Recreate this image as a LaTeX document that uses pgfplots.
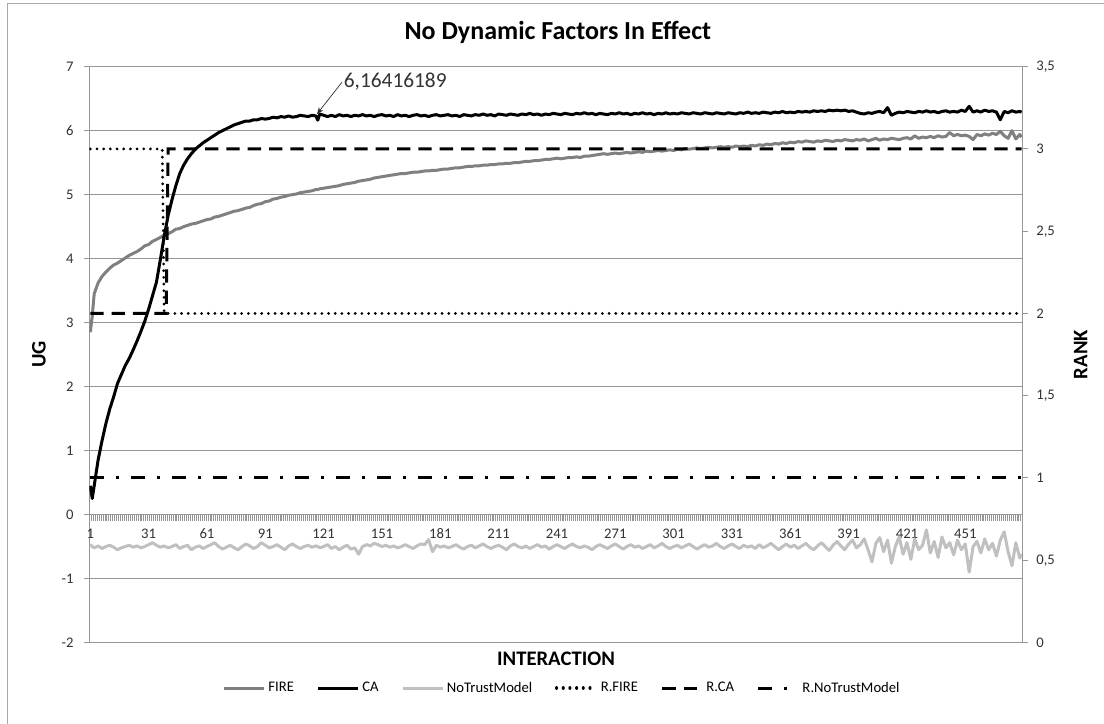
\documentclass[border=0pt]{standalone}
\usepackage{fontspec}
\setmainfont{Carlito}
\usepackage{pgfplots}
\usepackage{pgfplotstable}
\pgfplotsset{compat=1.18}
\usetikzlibrary{arrows.meta}

\definecolor{firec}{RGB}{128,128,128}
\definecolor{ntc}{RGB}{192,192,192}
\definecolor{gridc}{RGB}{150,150,150}
\definecolor{axc}{RGB}{150,150,150}
\definecolor{bordc}{RGB}{170,170,170}
\definecolor{tickc}{RGB}{50,50,50}

\pgfplotstableread{
x fire ca nt
1 2.85 0.45 -0.47
2 3.10 0.25 -0.50
3 3.45 0.45 -0.52
5 3.62 0.85 -0.49
7 3.72 1.15 -0.53
9 3.79 1.42 -0.50
11 3.85 1.65 -0.48
13 3.90 1.84 -0.51
15 3.93 2.05 -0.55
17 3.97 2.19 -0.52
19 4.01 2.33 -0.50
21 4.05 2.44 -0.48
23 4.08 2.57 -0.51
25 4.11 2.71 -0.49
27 4.15 2.86 -0.52
29 4.20 3.02 -0.50
31 4.22 3.21 -0.47
33 4.27 3.42 -0.44
35 4.30 3.63 -0.48
37 4.33 3.98 -0.51
39 4.37 4.35 -0.49
41 4.39 4.67 -0.52
43 4.42 4.92 -0.50
45 4.46 5.14 -0.47
47 4.47 5.33 -0.53
49 4.50 5.46 -0.50
51 4.52 5.56 -0.48
53 4.54 5.64 -0.55
55 4.55 5.71 -0.51
57 4.57 5.76 -0.49
59 4.59 5.81 -0.53
61 4.61 5.85 -0.50
63 4.62 5.89 -0.47
65 4.65 5.93 -0.44
67 4.66 5.97 -0.50
69 4.68 6.00 -0.54
71 4.70 6.03 -0.51
73 4.72 6.06 -0.48
75 4.74 6.09 -0.52
77 4.75 6.11 -0.55
79 4.77 6.13 -0.50
81 4.79 6.15 -0.46
83 4.80 6.15 -0.49
85 4.83 6.17 -0.53
87 4.85 6.17 -0.50
89 4.86 6.19 -0.44
91 4.89 6.18 -0.48
93 4.90 6.19 -0.52
95 4.93 6.21 -0.50
97 4.94 6.20 -0.47
99 4.96 6.22 -0.51
101 4.97 6.21 -0.55
103 4.99 6.23 -0.49
105 5.00 6.21 -0.46
107 5.01 6.22 -0.50
109 5.03 6.24 -0.53
111 5.04 6.23 -0.50
113 5.05 6.22 -0.48
115 5.06 6.24 -0.51
117 5.08 6.23 -0.49
118 5.08 6.164 -0.50
119 5.09 6.26 -0.52
121 5.10 6.24 -0.50
123 5.11 6.22 -0.47
125 5.12 6.24 -0.53
127 5.13 6.22 -0.50
129 5.14 6.25 -0.55
131 5.16 6.23 -0.51
133 5.17 6.24 -0.48
135 5.18 6.22 -0.54
137 5.19 6.24 -0.52
139 5.21 6.23 -0.62
141 5.22 6.25 -0.50
143 5.23 6.23 -0.47
145 5.24 6.24 -0.49
147 5.26 6.22 -0.45
149 5.27 6.24 -0.47
151 5.28 6.25 -0.50
153 5.29 6.23 -0.48
155 5.30 6.24 -0.51
157 5.31 6.22 -0.49
159 5.32 6.25 -0.52
161 5.33 6.23 -0.50
163 5.33 6.24 -0.47
165 5.34 6.22 -0.50
167 5.35 6.24 -0.53
169 5.35 6.25 -0.49
171 5.36 6.23 -0.46
173 5.37 6.24 -0.47
175 5.37 6.22 -0.39
177 5.38 6.24 -0.58
179 5.38 6.25 -0.48
181 5.39 6.23 -0.51
183 5.40 6.24 -0.49
185 5.40 6.25 -0.52
187 5.41 6.23 -0.50
189 5.42 6.24 -0.47
191 5.42 6.22 -0.51
193 5.43 6.25 -0.54
195 5.44 6.24 -0.50
197 5.44 6.23 -0.48
199 5.45 6.25 -0.52
201 5.45 6.24 -0.49
203 5.46 6.26 -0.46
205 5.46 6.24 -0.50
207 5.47 6.25 -0.53
209 5.47 6.23 -0.50
211 5.48 6.26 -0.48
213 5.48 6.25 -0.51
215 5.49 6.24 -0.55
217 5.49 6.26 -0.49
219 5.50 6.25 -0.46
221 5.50 6.24 -0.50
223 5.51 6.26 -0.52
225 5.52 6.25 -0.49
227 5.52 6.27 -0.53
229 5.53 6.25 -0.50
231 5.53 6.26 -0.47
233 5.54 6.24 -0.51
235 5.55 6.26 -0.49
237 5.55 6.25 -0.54
239 5.56 6.27 -0.50
241 5.57 6.26 -0.47
243 5.56 6.25 -0.50
245 5.57 6.27 -0.53
247 5.58 6.26 -0.49
249 5.58 6.25 -0.46
251 5.59 6.27 -0.50
253 5.58 6.26 -0.52
255 5.60 6.28 -0.49
257 5.60 6.26 -0.51
259 5.61 6.27 -0.55
261 5.62 6.25 -0.50
263 5.63 6.27 -0.47
265 5.64 6.26 -0.50
267 5.63 6.25 -0.53
269 5.64 6.27 -0.49
271 5.65 6.26 -0.46
273 5.64 6.28 -0.50
275 5.65 6.26 -0.54
277 5.66 6.27 -0.50
279 5.65 6.25 -0.47
281 5.66 6.27 -0.51
283 5.67 6.26 -0.49
285 5.66 6.28 -0.53
287 5.68 6.26 -0.50
289 5.67 6.27 -0.47
291 5.68 6.25 -0.52
293 5.69 6.27 -0.49
295 5.68 6.26 -0.45
297 5.69 6.28 -0.50
299 5.70 6.26 -0.53
301 5.69 6.27 -0.50
303 5.71 6.26 -0.48
305 5.70 6.28 -0.52
307 5.72 6.27 -0.49
309 5.71 6.26 -0.46
311 5.72 6.28 -0.50
313 5.73 6.27 -0.54
315 5.72 6.26 -0.50
317 5.73 6.28 -0.47
319 5.74 6.27 -0.51
321 5.73 6.26 -0.49
323 5.74 6.28 -0.45
325 5.75 6.27 -0.50
327 5.74 6.26 -0.53
329 5.75 6.28 -0.49
331 5.74 6.27 -0.46
333 5.76 6.26 -0.50
335 5.75 6.28 -0.53
337 5.76 6.27 -0.48
339 5.75 6.29 -0.51
341 5.77 6.27 -0.49
343 5.76 6.28 -0.53
345 5.78 6.27 -0.47
347 5.77 6.29 -0.52
349 5.79 6.28 -0.49
351 5.78 6.27 -0.45
353 5.80 6.29 -0.50
355 5.79 6.28 -0.55
357 5.81 6.30 -0.50
359 5.80 6.28 -0.46
361 5.82 6.29 -0.51
363 5.81 6.28 -0.48
365 5.83 6.30 -0.53
367 5.82 6.29 -0.49
369 5.84 6.30 -0.45
371 5.83 6.29 -0.51
373 5.82 6.31 -0.55
375 5.84 6.30 -0.49
377 5.83 6.31 -0.44
379 5.85 6.30 -0.50
381 5.84 6.32 -0.56
383 5.83 6.31 -0.48
385 5.85 6.32 -0.42
387 5.84 6.31 -0.49
389 5.86 6.32 -0.55
391 5.85 6.30 -0.46
393 5.84 6.31 -0.40
395 5.86 6.29 -0.52
397 5.85 6.27 -0.47
399 5.87 6.26 -0.38
401 5.84 6.28 -0.55
403 5.86 6.27 -0.74
405 5.88 6.29 -0.45
407 5.85 6.30 -0.36
409 5.87 6.28 -0.58
411 5.86 6.36 -0.40
413 5.88 6.24 -0.76
415 5.87 6.27 -0.50
417 5.86 6.29 -0.35
419 5.88 6.28 -0.62
421 5.89 6.30 -0.44
423 5.87 6.29 -0.70
425 5.92 6.28 -0.38
427 5.88 6.30 -0.55
429 5.90 6.29 -0.48
431 5.89 6.31 -0.24
433 5.91 6.29 -0.60
435 5.89 6.30 -0.42
437 5.92 6.28 -0.67
439 5.90 6.30 -0.35
441 5.91 6.31 -0.52
443 5.97 6.29 -0.44
445 5.92 6.30 -0.63
447 5.94 6.29 -0.40
449 5.92 6.32 -0.55
451 5.93 6.30 -0.46
453 5.91 6.38 -0.90
455 5.86 6.29 -0.50
457 5.94 6.31 -0.42
459 5.92 6.29 -0.60
461 5.95 6.32 -0.38
463 5.93 6.30 -0.55
465 5.96 6.31 -0.45
467 5.94 6.29 -0.65
469 5.99 6.17 -0.40
471 5.92 6.30 -0.27
473 5.88 6.28 -0.58
475 6.00 6.31 -0.80
477 5.87 6.29 -0.44
479 5.94 6.30 -0.68
480 5.90 6.29 -0.62
}\ugdata

\pgfplotstableread{
x rfire rca rnt
1 3 2 1
38 3 2 1
39 2 2 1
40 2 2 1
41 2 3 1
480 2 3 1
}\rankdata

\begin{document}
\begin{tikzpicture}
\useasboundingbox (-67pt,-61.1pt) rectangle (761pt,481.9pt);
\draw[bordc, line width=0.75pt] (-61.5pt,-80pt) -- (-61.5pt,479.4pt) -- (780pt,479.4pt);

\begin{axis}[
  scale only axis, width=700pt, height=431.9pt,
  xmin=0.5, xmax=480.5, ymin=-2, ymax=7,
  axis x line*=middle, axis y line*=left,
  axis line style={axc, line width=0.75pt},
  tick align=outside,
  xtick={1,31,61,91,121,151,181,211,241,271,301,331,361,391,421,451},
  xticklabels={1,31,61,91,121,151,181,211,241,271,301,331,361,391,421,451},
  minor xtick={0.5,1.5,...,480.5},
  major x tick style={draw=none},
  minor x tick style={axc, line width=0.5pt},
  minor tick length=4.5pt,
  major tick length=3.75pt,
  ytick={-2,-1,0,1,2,3,4,5,6,7},
  yticklabels={-2,-1,0,1,2,3,4,5,6,7},
  major y tick style={axc, line width=0.75pt},
  ymajorgrids, grid style={gridc, line width=0.75pt},
  tick label style={font=\fontsize{11}{13}\selectfont, text=tickc},
  xticklabel style={yshift=-3.5pt},
  yticklabel style={xshift=-4.5pt},
  every axis plot/.append style={line join=round},
  clip mode=individual,
]
\addplot[firec, line width=2.25pt] table[x=x,y=fire]{\ugdata};
\addplot[black, line width=2.25pt] table[x=x,y=ca]{\ugdata};
\addplot[ntc, line width=2.25pt] table[x=x,y=nt]{\ugdata};

\draw[black!85, line width=0.5pt, -{Stealth[length=5pt,width=4pt]}] (axis cs:130.5,6.76) -- (axis cs:117.6,6.26);
\node[anchor=west, inner sep=0pt, font=\fontsize{16}{19}\selectfont, text=black!80] at (axis cs:131.3,6.76) {6,16416189};

\node[anchor=base, font=\bfseries\fontsize{19.5}{22}\selectfont] at (axis description cs:0.502,1.0464) {No Dynamic Factors In Effect};
\node[rotate=90, font=\bfseries\fontsize{15.5}{18}\selectfont] at (axis description cs:-0.0539,0.5) {UG};
\node[font=\bfseries\fontsize{15.5}{18}\selectfont] at (axis description cs:0.5,-0.028) {INTERACTION};
\end{axis}

\begin{axis}[
  scale only axis, width=700pt, height=431.9pt,
  xmin=0.5, xmax=480.5, ymin=0, ymax=3.5,
  axis x line=none, axis y line*=right,
  axis line style={axc, line width=0.75pt},
  tick align=outside, major tick length=3.75pt,
  tick style={axc, line width=0.75pt},
  ytick={0,0.5,1,1.5,2,2.5,3,3.5},
  yticklabels={0,{0,5},1,{1,5},2,{2,5},3,{3,5}},
  tick label style={font=\fontsize{11}{13}\selectfont, text=tickc},
  yticklabel style={xshift=3pt},
  legend columns=6,
  legend style={at={(axis description cs:0.507,-0.079)}, anchor=center, draw=none, fill=none,
    font=\fontsize{11}{13}\selectfont,
    /tikz/every even column/.append style={column sep=15pt}},
  legend image code/.code={\draw[#1] (0pt,0pt) -- (30pt,0pt);},
  clip mode=individual,
]
\addlegendimage{firec, line width=2.25pt}\addlegendentry{FIRE}
\addlegendimage{black, line width=2.25pt}\addlegendentry{CA}
\addlegendimage{ntc, line width=2.25pt}\addlegendentry{NoTrustModel}
\addplot[black, line width=2.3pt, line cap=round, dash pattern=on 0.01pt off 5pt] table[x=x,y=rfire]{\rankdata};
\addlegendentry{R.FIRE}
\addplot[black, line width=2.25pt, dash pattern=on 10pt off 6pt] table[x=x,y=rca]{\rankdata};
\addlegendentry{R.CA}
\addplot[black, line width=2.25pt, dash pattern=on 10.5pt off 9pt on 2.25pt off 9pt] table[x=x,y=rnt]{\rankdata};
\addlegendentry{R.NoTrustModel}

\node[rotate=90, font=\bfseries\fontsize{15.5}{18}\selectfont] at (axis description cs:1.0622,0.5) {RANK};
\end{axis}
\end{tikzpicture}
\end{document}
